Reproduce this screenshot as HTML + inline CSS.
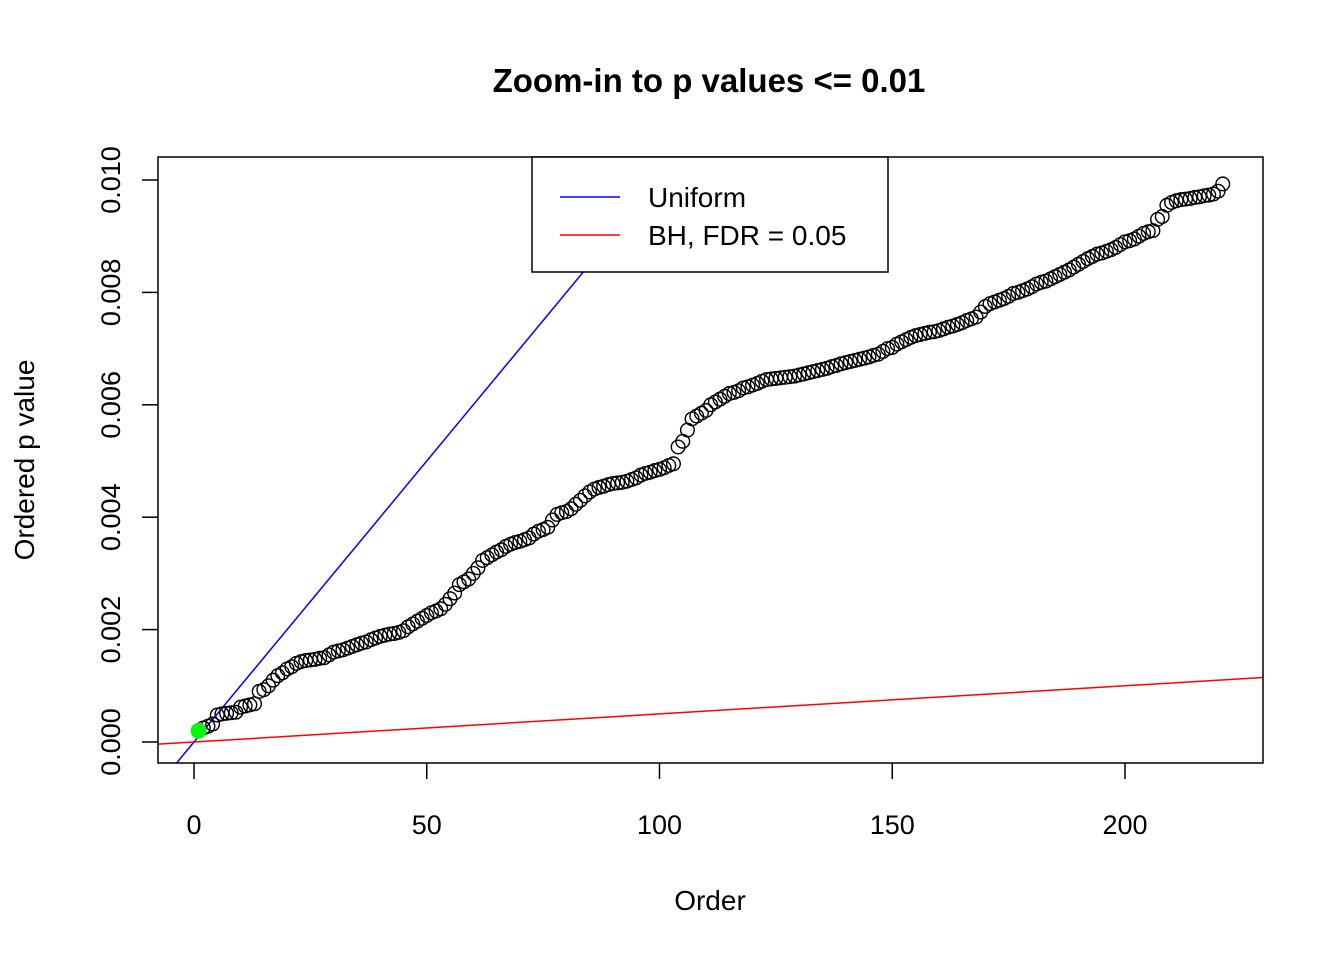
<!DOCTYPE html>
<html><head><meta charset="utf-8"><style>
body{margin:0;background:#fff}
svg text{font-family:"Liberation Sans",Arial,sans-serif}
</style></head><body>
<svg id="chart" width="1344" height="960" xmlns="http://www.w3.org/2000/svg">
<text x="709" y="92" font-size="33" font-weight="bold" text-anchor="middle">Zoom-in to p values &lt;= 0.01</text>
<text x="710" y="910" font-size="28" text-anchor="middle">Order</text>
<text transform="translate(34,460) rotate(-90)" font-size="28" text-anchor="middle">Ordered p value</text>
<defs><clipPath id="plotclip"><rect x="158" y="157" width="1105" height="606"/></clipPath></defs>
<g id="lines" clip-path="url(#plotclip)"></g>
<g id="points" clip-path="url(#plotclip)"></g>
<g id="xaxis"></g><g id="yaxis"></g>
<rect x="158" y="157" width="1105" height="606" fill="none" stroke="#000" stroke-width="1.5"/>
<g>
<rect x="532" y="157" width="356" height="115" fill="#fff" stroke="#000" stroke-width="1.5"/>
<line x1="560" y1="197" x2="620" y2="197" stroke="#0000ff" stroke-width="1.5"/>
<text x="648" y="207" font-size="28">Uniform</text>
<line x1="560" y1="235" x2="620" y2="235" stroke="#ff0000" stroke-width="1.5"/>
<text x="648" y="245" font-size="28">BH, FDR = 0.05</text>
</g>
</svg>
<script>
const xTicks=[0,50,100,150,200];
const yTicks=[0,0.002,0.004,0.006,0.008,0.010];
const yTickLabels=["0.000","0.002","0.004","0.006","0.008","0.010"];
const nTests=10000;
const fdr=0.05;
const pValuesE4=[2,2.5,2.8,3.2,4.8,5,5.1,5.2,5.3,6.2,
6.4,6.6,6.8,9,9.3,10,11,11.8,12.3,13,
13.4,14,14.3,14.5,14.6,14.7,14.9,15,15.5,16,
16.2,16.4,16.7,17,17.3,17.6,17.8,18.2,18.5,18.8,
19,19.2,19.3,19.5,19.8,20.5,21,21.5,22,22.5,
23,23.3,23.7,24.5,25.5,26.5,28,28.5,29,30,
31,32.3,32.8,33.3,33.8,34.2,34.8,35.2,35.5,35.7,
36,36.3,37,37.5,37.8,38.2,39.5,40.5,40.8,41,
41.5,42.3,43,43.8,44.5,45,45.3,45.5,45.8,46,
46.1,46.2,46.4,46.7,47,47.5,47.8,48,48.3,48.5,
48.8,49.2,49.5,52.5,53.5,55.5,57.5,58,58.5,59,
60,60.5,61,61.5,62,62.2,62.5,63,63.2,63.5,
63.8,64.2,64.5,64.6,64.7,64.8,64.9,65,65.1,65.3,
65.5,65.7,65.9,66.1,66.3,66.5,66.8,67,67.3,67.5,
67.7,67.9,68.1,68.3,68.5,68.8,69,69.5,70,70.2,
70.8,71.2,71.6,72,72.3,72.5,72.7,72.9,73,73.2,
73.5,73.8,74,74.3,74.6,75,75.3,75.6,76.5,77.5,
78,78.3,78.6,78.9,79.3,79.8,80,80.3,80.6,81,
81.5,81.8,82,82.4,82.8,83.2,83.6,84,84.5,85,
85.5,86,86.4,86.8,87,87.3,87.6,88,88.5,89,
89.2,89.5,90,90.5,90.8,91,93,93.5,95.5,96,
96.3,96.5,96.6,96.7,96.9,97,97.2,97.3,97.5,98,
99.3];
const highlighted=[1];
const NS="http://www.w3.org/2000/svg";
const X=v=>194+(v-0)*(1125-194)/200;
const Y=v=>742-v*(742-180)/0.010;
function mk(tag,attrs,parent){const e=document.createElementNS(NS,tag);for(const k in attrs)e.setAttribute(k,attrs[k]);parent.appendChild(e);return e;}
const xa=document.getElementById('xaxis'),ya=document.getElementById('yaxis');
const lg=document.getElementById('lines'),pg=document.getElementById('points');
xTicks.forEach(t=>{
 const l=mk('line',{x1:X(t),x2:X(t),y1:763,y2:779,stroke:'#000','stroke-width':1.5},xa);
 
 
 const tx=mk('text',{x:X(t),y:834,'font-size':27,'text-anchor':'middle'},xa);
 tx.textContent=t;
 
 
});
yTicks.forEach((t,i)=>{
 const l=mk('line',{x1:142,x2:158,y1:Y(t),y2:Y(t),stroke:'#000','stroke-width':1.5},ya);
 
 
 const tx=mk('text',{transform:`translate(120,${Y(t)}) rotate(-90)`,'font-size':27,'text-anchor':'middle'},ya);
 tx.textContent=yTickLabels[i];
 
 
});
const x0=-10,x1=240;
const ul=mk('line',{x1:X(x0),y1:Y(x0/nTests),x2:X(x1),y2:Y(x1/nTests),stroke:'#0000ff','stroke-width':1.5},lg);


const bl=mk('line',{x1:X(x0),y1:Y(fdr*x0/nTests),x2:X(x1),y2:Y(fdr*x1/nTests),stroke:'#ff0000','stroke-width':1.5},lg);


pValuesE4.forEach((v,i)=>{
 const c=mk('circle',{cx:X(i+1),cy:Y(v/1e4),r:6.8,fill:'none',stroke:'#000','stroke-width':1.4},pg);
 
 
});
highlighted.forEach(i=>{
 const c=mk('circle',{cx:X(i),cy:Y(pValuesE4[i-1]/1e4),r:7.5,fill:'#00ff00',stroke:'#22dd22','stroke-width':1},pg);
 
 
});
</script>
</body></html>
